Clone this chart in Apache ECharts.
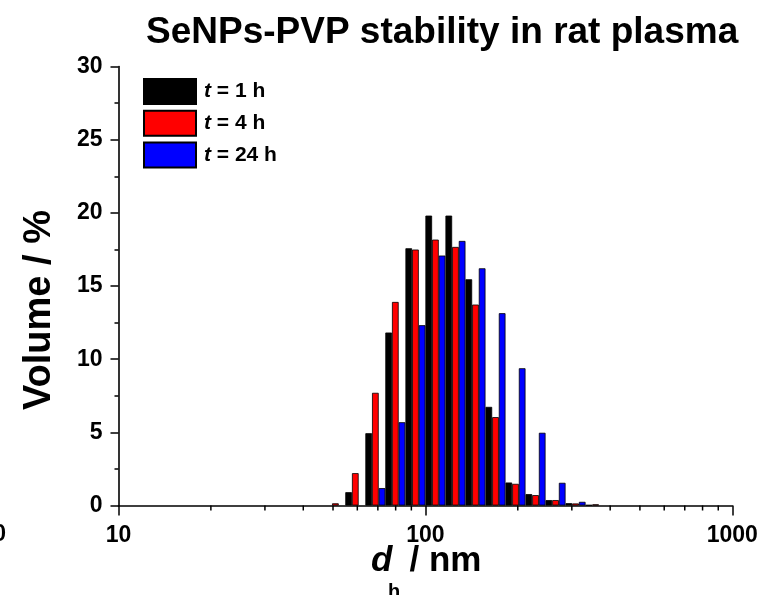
<!DOCTYPE html>
<html><head><meta charset="utf-8">
<script src="https://cdn.jsdelivr.net/npm/echarts@6/dist/echarts.min.js"></script>
<style>html,body{margin:0;padding:0;background:#fff}#c{width:766px;height:595px}</style>
</head><body><div id="c"></div>
<script>
// hydrodynamic diameter bin centres (nm)
const binSizes = [50.9, 59.1, 68.7, 79.8, 92.8, 107.8, 125.3, 145.6, 169.2, 196.6, 228.5, 265.5, 308.5, 358.5];
// volume % per bin
const vol1h  = [0.00, 0.91, 4.94, 11.82, 17.58, 19.81, 19.81, 15.46, 6.74, 1.57, 0.78, 0.37, 0.16, 0.03];
const vol4h  = [0.15, 2.21, 7.70, 13.91, 17.49, 18.17, 17.67, 13.73, 6.04, 1.48, 0.71, 0.37, 0.14, 0.08];
const vol24h = [0.00, 0.00, 1.19, 5.69, 12.32, 17.08, 18.08, 16.21, 13.14, 9.38, 4.97, 1.55, 0.25, 0.00];
const seriesNames = ['t = 1 h', 't = 4 h', 't = 24 h'];
const seriesColors = ['#000000', '#ff0000', '#0000ff'];
const xMin = 10, xMax = 1000;
const xMinorTicks = [20, 30, 40, 50, 60, 70, 80, 90, 200, 300, 400, 500, 600, 700, 800, 900];
const yMin = 0, yMax = 30, yStep = 5;

const FONT = '"Liberation Sans", Arial, Helvetica, sans-serif';
const chart = echarts.init(document.getElementById('c'), null, {renderer: 'canvas'});

function pairs(vals) {
  return binSizes.map((b, i) => [b, vals[i]]).filter(p => p[1] > 0);
}
const allVals = [vol1h, vol4h, vol24h];

const barSeries = allVals.map((vals, k) => ({
  type: 'bar',
  name: seriesNames[k],
  data: pairs(vals),
  barWidth: 6.67,
  barGap: '0%',
  itemStyle: {color: seriesColors[k], borderColor: '#000', borderWidth: 0.8},
  emphasis: {disabled: true},
  animation: false
}));

const minorTickSeries = {
  type: 'custom',
  name: 'minor',
  silent: true,
  clip: false,
  data: xMinorTicks.map(v => [v, 0]),
  renderItem: function (params, api) {
    const p = api.coord([api.value(0), 0]);
    return {
      type: 'line',
      shape: {x1: p[0], y1: p[1], x2: p[0], y2: p[1] + 5},
      style: {stroke: '#000', lineWidth: 1.5}
    };
  },
  animation: false,
  z: 5
};

chart.setOption({
  animation: false,
  backgroundColor: '#fff',
  title: {
    text: 'SeNPs-PVP stability in rat plasma',
    left: 146, top: 14, padding: 0,
    textStyle: {fontFamily: FONT, fontSize: 37, fontWeight: 'bold', color: '#000'}
  },
  legend: {
    data: seriesNames,
    orient: 'vertical',
    left: 143, top: 78, padding: 0,
    itemWidth: 52, itemHeight: 25, itemGap: 4.7,
    icon: 'rect',
    selectedMode: false,
    formatter: name => '{i|t}{n|' + name.slice(1) + '}',
    textStyle: {
      fontFamily: FONT, fontSize: 21, fontWeight: 'bold', color: '#000',
      rich: {
        i: {fontFamily: FONT, fontSize: 21, fontWeight: 'bold', fontStyle: 'italic', color: '#000', padding: [0, 0, 0, 3]},
        n: {fontFamily: FONT, fontSize: 21, fontWeight: 'bold', color: '#000'}
      }
    }
  },
  grid: {left: 118.5, right: 33.7, top: 66.5, bottom: 89.5, containLabel: false, outerBoundsMode: 'none'},
  xAxis: {
    type: 'log', logBase: 10, min: xMin, max: xMax,
    axisLine: {show: true, onZero: false, lineStyle: {color: '#000', width: 1.6}},
    axisTick: {show: true, inside: false, length: 10, lineStyle: {color: '#000', width: 1.5}},
    minorTick: {show: false},
    splitLine: {show: false},
    axisLabel: {fontFamily: FONT, fontSize: 23, fontWeight: 'bold', color: '#000', margin: 19,
      formatter: v => String(Math.round(v))}
  },
  yAxis: {
    type: 'value', min: yMin, max: yMax, interval: yStep,
    axisLine: {show: true, lineStyle: {color: '#000', width: 1.6}},
    axisTick: {show: true, inside: false, length: 8, lineStyle: {color: '#000', width: 1.5}},
    minorTick: {show: true, splitNumber: 2, length: 4, lineStyle: {color: '#000', width: 1.5}},
    splitLine: {show: false},
    axisLabel: {fontFamily: FONT, fontSize: 23, fontWeight: 'bold', color: '#000', margin: 16}
  },
  graphic: [
    {type: 'text', x: 40, y: 310, rotation: Math.PI / 2,
      style: {text: 'Volume / %', font: 'bold 38px ' + FONT, fill: '#000', textAlign: 'center', textVerticalAlign: 'middle'}},
    {type: 'text', x: 371, y: 561,
      style: {text: 'd', font: 'italic bold 35px ' + FONT, fill: '#000', textAlign: 'left', textVerticalAlign: 'middle'}},
    {type: 'text', x: 388, y: 592.7,
      style: {text: 'h', font: 'bold 20px ' + FONT, fill: '#000', textAlign: 'left', textVerticalAlign: 'middle'}},
    {type: 'text', x: 409.5, y: 561,
      style: {text: '/ nm', font: 'bold 35px ' + FONT, fill: '#000', textAlign: 'left', textVerticalAlign: 'middle'}},
    {type: 'text', x: 6, y: 535,
      style: {text: '0', font: 'bold 23px ' + FONT, fill: '#000', textAlign: 'right', textVerticalAlign: 'middle'}}
  ],
  series: barSeries.concat([minorTickSeries])
});
</script>
</body></html>
